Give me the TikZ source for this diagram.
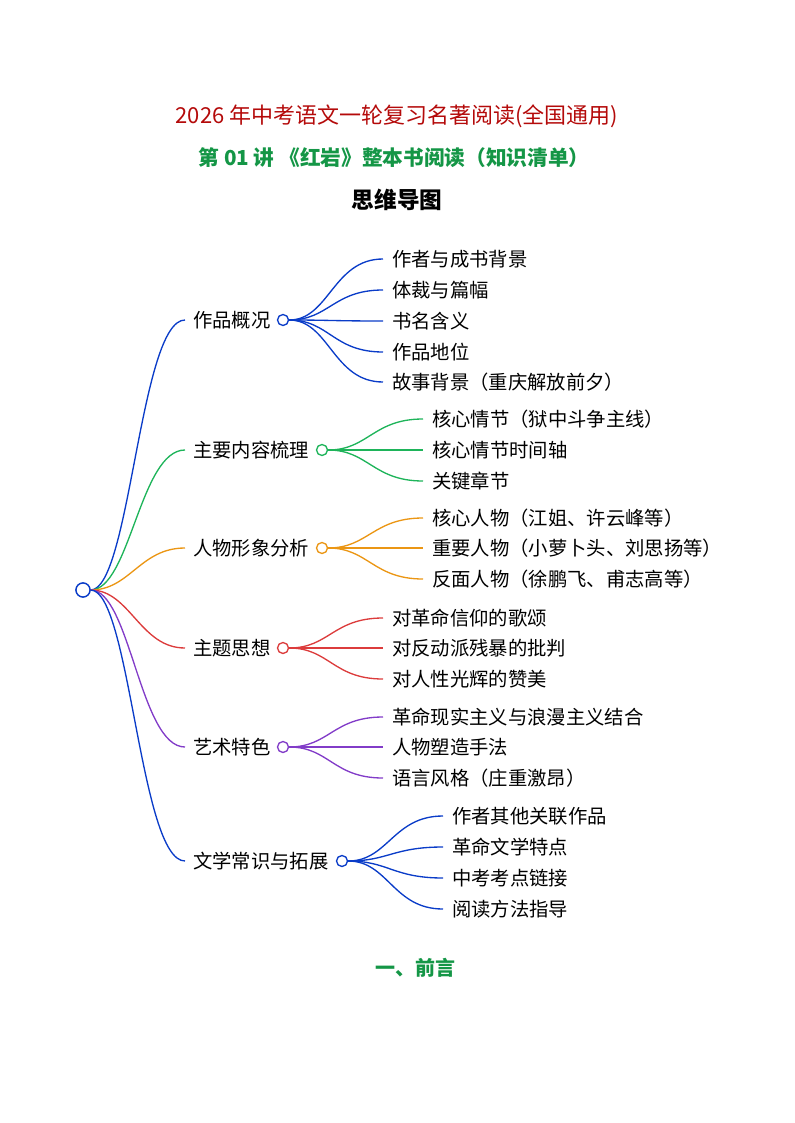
\documentclass[tikz,border=0pt]{standalone}
\usepackage{fontspec}
\setmainfont{Noto Sans CJK SC}
\begin{document}
\begin{tikzpicture}[x=0.75pt,y=-0.75pt,
  lab/.style={anchor=west,inner sep=0pt,font=\fontsize{14.5pt}{16pt}\selectfont},
  dot/.style={circle,draw,line width=1pt,fill=white,inner sep=0pt,minimum size=8.25pt},
  cn/.style={line width=1pt}]
\definecolor{cb}{RGB}{10,60,200}
\definecolor{cg}{RGB}{30,180,90}
\definecolor{co}{RGB}{235,150,20}
\definecolor{cr}{RGB}{220,60,60}
\definecolor{cp}{RGB}{130,60,200}
\definecolor{tr}{RGB}{180,10,10}
\definecolor{tg}{RGB}{20,150,70}
\useasboundingbox (0,0) rectangle (794,1123);
\node[text=tr,font=\fontsize{16.5pt}{18pt}\selectfont] (t1) at (397,116) {2026 年中考语文一轮复习名著阅读(全国通用)};
\node[text=tg,font=\fontsize{15.5pt}{18pt}\bfseries] (t2) at (394,158) {第 01 讲 《红岩》整本书阅读（知识清单）};
\node[font=\fontsize{17pt}{18pt}\bfseries] (t3) at (397,200) {思维导图};
\node[text=tg,font=\fontsize{15pt}{18pt}\bfseries] (t4) at (415,968) {一、前言};

\node[dot,draw=cb,minimum size=10.5pt] (root) at (83,590) {};

\newcommand{\mybranch}[5]{%
  \node[lab] (#1) at (193,#2) {#5};
  \coordinate (#1s) at (185,#2);
  \draw[cn,#4] (root.east) .. controls (130,590) and (140,#2) .. (#1s);
  \node[dot,draw=#4] (#1c) at (#3,#2) {};
}
\newcommand{\mychild}[6]{%
  \node[lab] (#1) at (#3,#4) {#6};
  \coordinate (#1s) at ([xshift=-6.75pt]#1.west);
  \draw[cn,#5] (#2c.east) .. controls ([xshift=30pt]#2c.east) and ([xshift=-37.5pt]#1s) .. (#1s);
}

\mybranch{a}{320}{283}{cb}{作品概况}
\mychild{a1}{a}{392}{259}{cb}{作者与成书背景}
\mychild{a2}{a}{392}{290}{cb}{体裁与篇幅}
\mychild{a3}{a}{392}{321}{cb}{书名含义}
\mychild{a4}{a}{392}{352}{cb}{作品地位}
\mychild{a5}{a}{392}{382}{cb}{故事背景（重庆解放前夕）}

\mybranch{b}{450}{322}{cg}{主要内容梳理}
\mychild{b1}{b}{432}{419}{cg}{核心情节（狱中斗争主线）}
\mychild{b2}{b}{432}{450}{cg}{核心情节时间轴}
\mychild{b3}{b}{432}{481}{cg}{关键章节}

\mybranch{c}{548}{322}{co}{人物形象分析}
\mychild{c1}{c}{432}{518}{co}{核心人物（江姐、许云峰等）}
\mychild{c2}{c}{432}{548}{co}{重要人物（小萝卜头、刘思扬等）}
\mychild{c3}{c}{432}{579}{co}{反面人物（徐鹏飞、甫志高等）}

\mybranch{d}{648}{283}{cr}{主题思想}
\mychild{d1}{d}{392}{618}{cr}{对革命信仰的歌颂}
\mychild{d2}{d}{392}{648}{cr}{对反动派残暴的批判}
\mychild{d3}{d}{392}{679}{cr}{对人性光辉的赞美}

\mybranch{e}{747}{283}{cp}{艺术特色}
\mychild{e1}{e}{392}{717}{cp}{革命现实主义与浪漫主义结合}
\mychild{e2}{e}{392}{747}{cp}{人物塑造手法}
\mychild{e3}{e}{392}{778}{cp}{语言风格（庄重激昂）}

\mybranch{f}{861}{342}{cb}{文学常识与拓展}
\mychild{f1}{f}{452}{816}{cb}{作者其他关联作品}
\mychild{f2}{f}{452}{847}{cb}{革命文学特点}
\mychild{f3}{f}{452}{878}{cb}{中考考点链接}
\mychild{f4}{f}{452}{909}{cb}{阅读方法指导}
\node[dot,draw=cb,minimum size=10.5pt] (root2) at (root) {};
\end{tikzpicture}
\end{document}
